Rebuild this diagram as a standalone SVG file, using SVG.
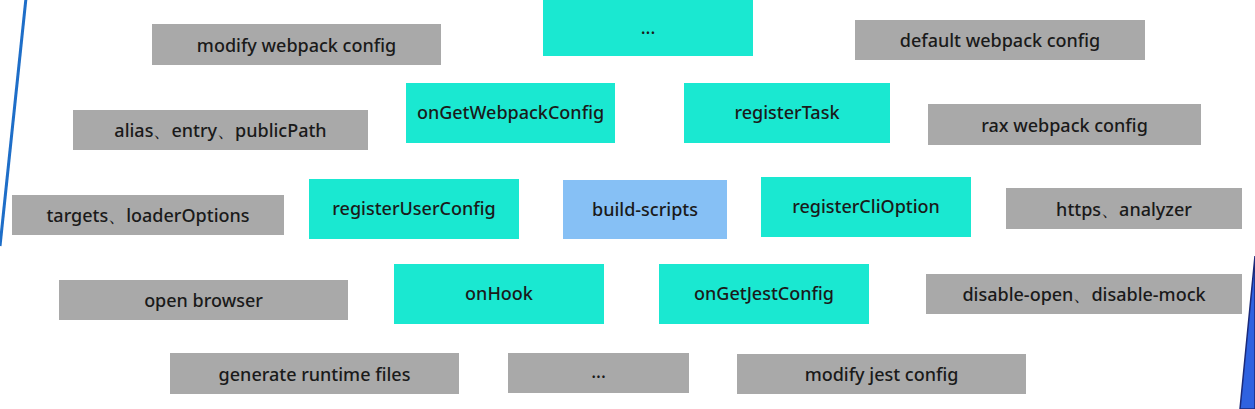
<svg xmlns="http://www.w3.org/2000/svg" width="1255" height="409" viewBox="0 0 1255 409">
<style>
.g{fill:#a9a9a9}
.t{fill:#1ae8d1}
.b{fill:#86c0f5}
text{font-family:"Noto Sans","Open Sans","Liberation Sans",sans-serif;font-size:18px;font-weight:500;fill:#1a1a1a;text-anchor:middle}
</style>
<rect width="1255" height="409" fill="#ffffff"/>
<g id="decor">
<line x1="26" y1="-2" x2="0" y2="246" stroke="#1e6ec8" stroke-width="3"/>
<polygon points="1255,256 1240,409 1255,409" fill="#2f62e0" stroke="#1b2a7a" stroke-width="1.5"/>
</g>
<g id="connectors"></g>
<g id="n-top-dots"><rect class="t" x="543" y="0" width="210" height="56"/><text x="648" y="34">...</text></g>
<g id="n-modify-webpack"><rect class="g" x="152" y="24" width="289" height="41"/><text x="296.5" y="52">modify webpack config</text></g>
<g id="n-default-webpack"><rect class="g" x="855" y="20" width="290" height="40"/><text x="1000" y="47">default webpack config</text></g>
<g id="n-onGetWebpackConfig"><rect class="t" x="406" y="83" width="209" height="60"/><text x="510.5" y="119">onGetWebpackConfig</text></g>
<g id="n-registerTask"><rect class="t" x="684" y="83" width="206" height="60"/><text x="787" y="119">registerTask</text></g>
<g id="n-alias"><rect class="g" x="73" y="110" width="295" height="40"/><text x="220.5" y="137">alias、entry、publicPath</text></g>
<g id="n-rax"><rect class="g" x="928" y="104" width="273" height="41"/><text x="1064.5" y="131.5">rax webpack config</text></g>
<g id="n-targets"><rect class="g" x="12" y="195" width="272" height="40"/><text x="148" y="222">targets、loaderOptions</text></g>
<g id="n-registerUserConfig"><rect class="t" x="309" y="179" width="210" height="60"/><text x="414" y="215">registerUserConfig</text></g>
<g id="n-build-scripts"><rect class="b" x="563" y="180" width="164" height="59"/><text x="645" y="216">build-scripts</text></g>
<g id="n-registerCliOption"><rect class="t" x="761" y="177" width="210" height="60"/><text x="866" y="213">registerCliOption</text></g>
<g id="n-https"><rect class="g" x="1006" y="188" width="236" height="41"/><text x="1124" y="215.5">https、analyzer</text></g>
<g id="n-open-browser"><rect class="g" x="59" y="280" width="289" height="40"/><text x="203.5" y="307">open browser</text></g>
<g id="n-onHook"><rect class="t" x="394" y="264" width="210" height="60"/><text x="499" y="300">onHook</text></g>
<g id="n-onGetJestConfig"><rect class="t" x="659" y="264" width="210" height="60"/><text x="764" y="300">onGetJestConfig</text></g>
<g id="n-disable"><rect class="g" x="926" y="274" width="316" height="40"/><text x="1084" y="301">disable-open、disable-mock</text></g>
<g id="n-generate"><rect class="g" x="170" y="353" width="289" height="41"/><text x="314.5" y="380.5">generate runtime files</text></g>
<g id="n-bottom-dots"><rect class="g" x="508" y="353" width="181" height="40"/><text x="598.5" y="378">...</text></g>
<g id="n-modify-jest"><rect class="g" x="737" y="354" width="289" height="40"/><text x="881.5" y="381">modify jest config</text></g>
</svg>
